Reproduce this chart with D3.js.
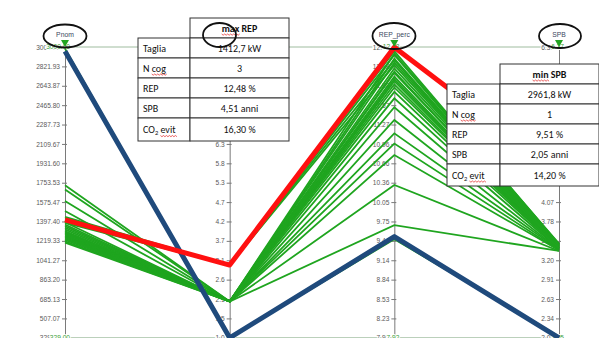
<!DOCTYPE html>
<html><head><meta charset="utf-8">
<script src="https://cdn.jsdelivr.net/npm/d3@7"></script>
<style>html,body{margin:0;padding:0;background:#fff;overflow:hidden}</style>
</head><body><svg id="chart" width="599" height="338"></svg>
<script>
// Parallel coordinates of the cogeneration configurations
const dimensions = ["Pnom", "N_cog", "REP_perc", "SPB"];
const axisMin = [329, 1, 7.923, 2.05];
const axisMax = [3000, 9, 12.485, 6.37];
const tickFormats = [".2f", ".1f", ".2f", ".2f"];
const tickCount = 16;

// Feasible configurations
const pnomValues = [1425, 1405, 1385, 1440, 1731, 1692, 1585, 1493, 1390, 1370, 1355, 1340, 1325, 1310, 1300, 1290, 1280, 1270, 1260, 1250, 1240, 1228, 1215, 1204, 2985];
const ncogValues = [3, 3, 3, 3, 2, 2, 2, 2, 2, 2, 2, 2, 2, 2, 2, 2, 2, 2, 2, 2, 2, 2, 2, 2, 1];
const repValues  = [12.42, 12.36, 12.28, 12.20, 12.10, 12.02, 11.95, 11.90, 12.38, 12.30, 12.24, 12.15, 12.08, 11.98, 11.85, 11.68, 11.54, 11.34, 11.13, 10.97, 10.79, 10.32, 9.69, 11.78, 9.47];
const spbValues  = [3.44, 3.42, 3.41, 3.43, 3.40, 3.39, 3.38, 3.37, 3.45, 3.44, 3.43, 3.42, 3.41, 3.40, 3.39, 3.38, 3.37, 3.36, 3.36, 3.35, 3.35, 3.34, 3.34, 3.38, 2.07];

// Highlighted optima: [Pnom kW, N cog, REP %, SPB anni]
const maxRep = [1412.7, 3, 12.48, 4.51];
const minSpb = [2961.8, 1, 9.51, 2.05];
const co2Evit = [16.30, 14.20];
const rowLabels = ["Taglia", "N cog", "REP", "SPB", "CO2 evit"];

const W = 599, H = 338;
const yTop = 47, yBottom = 337.8;
const svg = d3.select("#chart");
svg.append("rect").attr("width", W).attr("height", H).attr("fill", "#fff");

const x = d3.scalePoint().domain(dimensions).range([65, 559]);
const y = dimensions.map((d, i) => d3.scaleLinear().domain([axisMin[i], axisMax[i]]).range([yBottom, yTop]));
const ticks = dimensions.map((d, i) => d3.range(tickCount).map(k => axisMin[i] + k * (axisMax[i] - axisMin[i]) / (tickCount - 1)));

// frame lines joining the axis ends
[yTop, yBottom].forEach(yy => {
  svg.append("line").attr("x1", x(dimensions[0])).attr("x2", x(dimensions[3]))
    .attr("y1", yy).attr("y2", yy).attr("stroke", "#9fbc9f").attr("stroke-width", 1);
});

// axes
dimensions.forEach((d, i) => {
  const g = svg.append("g").attr("transform", `translate(${x(d)},0)`);
  g.call(d3.axisLeft(y[i]).tickValues(ticks[i]).tickFormat(d3.format(tickFormats[i]))
    .tickSizeInner(3).tickSizeOuter(0).tickPadding(2));
  g.select(".domain").attr("stroke", "#7a7a7a");
  g.selectAll(".tick line").attr("x1", 2).attr("stroke", "#7a7a7a");
  g.selectAll(".tick text").attr("font-family", "Liberation Sans, Arial, sans-serif")
    .attr("font-size", 6.6).attr("fill", "#5a5a5a")
    .attr("stroke", "#fff").attr("stroke-width", 2).attr("paint-order", "stroke");
  // range limits on the right side
  [axisMax[i], axisMin[i]].forEach(v => {
    g.append("text").attr("x", 5).attr("y", y[i](v)).attr("dy", "0.32em")
      .attr("font-family", "Liberation Sans, Arial, sans-serif").attr("font-size", 6.6)
      .attr("fill", "#3aa03a").attr("stroke", "#fff").attr("stroke-width", 2).attr("paint-order", "stroke")
      .text(d3.format(tickFormats[i])(v));
  });
});

const line = d3.line().x((v, i) => x(dimensions[i])).y((v, i) => y[i](v));
const greenRows = pnomValues.map((p, i) => [p, ncogValues[i], repValues[i], spbValues[i]]);

svg.append("g").selectAll("path").data(greenRows).join("path")
  .attr("d", line).attr("fill", "none").attr("stroke", "#1fa51f").attr("stroke-width", 1.8);

svg.append("path").datum(minSpb).attr("d", line).attr("fill", "none")
  .attr("stroke", "#1f4a7c").attr("stroke-width", 5).attr("stroke-linejoin", "round");
svg.append("path").datum(maxRep).attr("d", line).attr("fill", "none")
  .attr("stroke", "#ff1010").attr("stroke-width", 5).attr("stroke-linejoin", "round");

// filter handles and axis names
dimensions.forEach((d, i) => {
  const cx = x(d);
  svg.append("path").attr("d", `M${cx - 4},${yTop - 7}L${cx + 4},${yTop - 7}L${cx},${yTop}Z`).attr("fill", "#22a522");
  svg.append("text").attr("x", cx).attr("y", 37).attr("text-anchor", "middle")
    .attr("font-family", "Liberation Sans, Arial, sans-serif").attr("font-size", 6.8)
    .attr("fill", "#3b4660").text(d);
});

// tables
const fmtComma = f => v => d3.format(f)(v).replace(".", ",");
function tableValues(r, co2) {
  return [fmtComma(".1f")(r[0]) + " kW", String(r[1]), fmtComma(".2f")(r[2]) + " %",
          fmtComma(".2f")(r[3]) + " anni", fmtComma(".2f")(co2) + " %"];
}
function squiggle(g, x0, x1, yy) {
  let p = `M${x0},${yy}`;
  for (let xx = x0, k = 0; xx < x1; xx += 1.5, k++) p += `L${xx + 1.5},${yy + (k % 2 ? 0 : 1.2)}`;
  g.append("path").attr("d", p).attr("fill", "none").attr("stroke", "#e02020").attr("stroke-width", 0.7);
}
const tFont = "Carlito, Lato, sans-serif";
function drawTable(x0, xDiv, x1, yHead, rowsY, title, values) {
  const g = svg.append("g");
  const cell = (a, b, c, dd) => g.append("rect").attr("x", a).attr("y", b).attr("width", c - a).attr("height", dd - b)
    .attr("fill", "#fff").attr("stroke", "#333").attr("stroke-width", 1);
  cell(xDiv, yHead, x1, rowsY[0]);
  const ht = g.append("text").attr("x", (xDiv + x1) / 2).attr("y", (yHead + rowsY[0]) / 2 + 3.5)
    .attr("text-anchor", "middle").attr("font-family", tFont).attr("font-size", 10).attr("font-weight", "bold")
    .attr("fill", "#111").text(title);
  const hn = ht.node();
  squiggle(g, hn.getStartPositionOfChar(0).x, hn.getEndPositionOfChar(2).x, (yHead + rowsY[0]) / 2 + 6);
  rowLabels.forEach((lab, r) => {
    const y0 = rowsY[r], y1 = rowsY[r + 1], ym = (y0 + y1) / 2 + 3.5;
    cell(x0, y0, xDiv, y1);
    cell(xDiv, y0, x1, y1);
    const t = g.append("text").attr("x", x0 + 5).attr("y", ym).attr("font-family", tFont)
      .attr("font-size", 10).attr("fill", "#111");
    if (lab.startsWith("CO2")) {
      t.append("tspan").text("CO");
      t.append("tspan").attr("font-size", 6.5).attr("dy", 2).text("2");
      t.append("tspan").attr("dy", -2).text(" evit");
      const n = t.node();
      squiggle(g, n.getStartPositionOfChar(4).x, n.getEndPositionOfChar(7).x, ym + 2.5);
    } else {
      t.text(lab);
      if (lab === "N cog") {
        const n = t.node();
        squiggle(g, n.getStartPositionOfChar(2).x, n.getEndPositionOfChar(4).x, ym + 2.5);
      }
    }
    g.append("text").attr("x", (xDiv + x1) / 2).attr("y", ym).attr("text-anchor", "middle")
      .attr("font-family", tFont).attr("font-size", 10).attr("fill", "#111").text(values[r]);
  });
}
drawTable(138, 190, 289, 18, [38, 58, 78, 98, 118, 141], "max REP", tableValues(maxRep, co2Evit[0]));
drawTable(447, 500, 599, 64, [84, 104, 124, 144, 164, 186], "min SPB", tableValues(minSpb, co2Evit[1]));

// hand-drawn emphasis rings
[[65, 36, 21.5, 11.5], [219.5, 35, 16.5, 12], [394, 36, 21.5, 13], [560, 36, 21, 12]].forEach(e => {
  svg.append("ellipse").attr("cx", e[0]).attr("cy", e[1]).attr("rx", e[2]).attr("ry", e[3])
    .attr("fill", "none").attr("stroke", "#111").attr("stroke-width", 1.8);
});
</script></body></html>
